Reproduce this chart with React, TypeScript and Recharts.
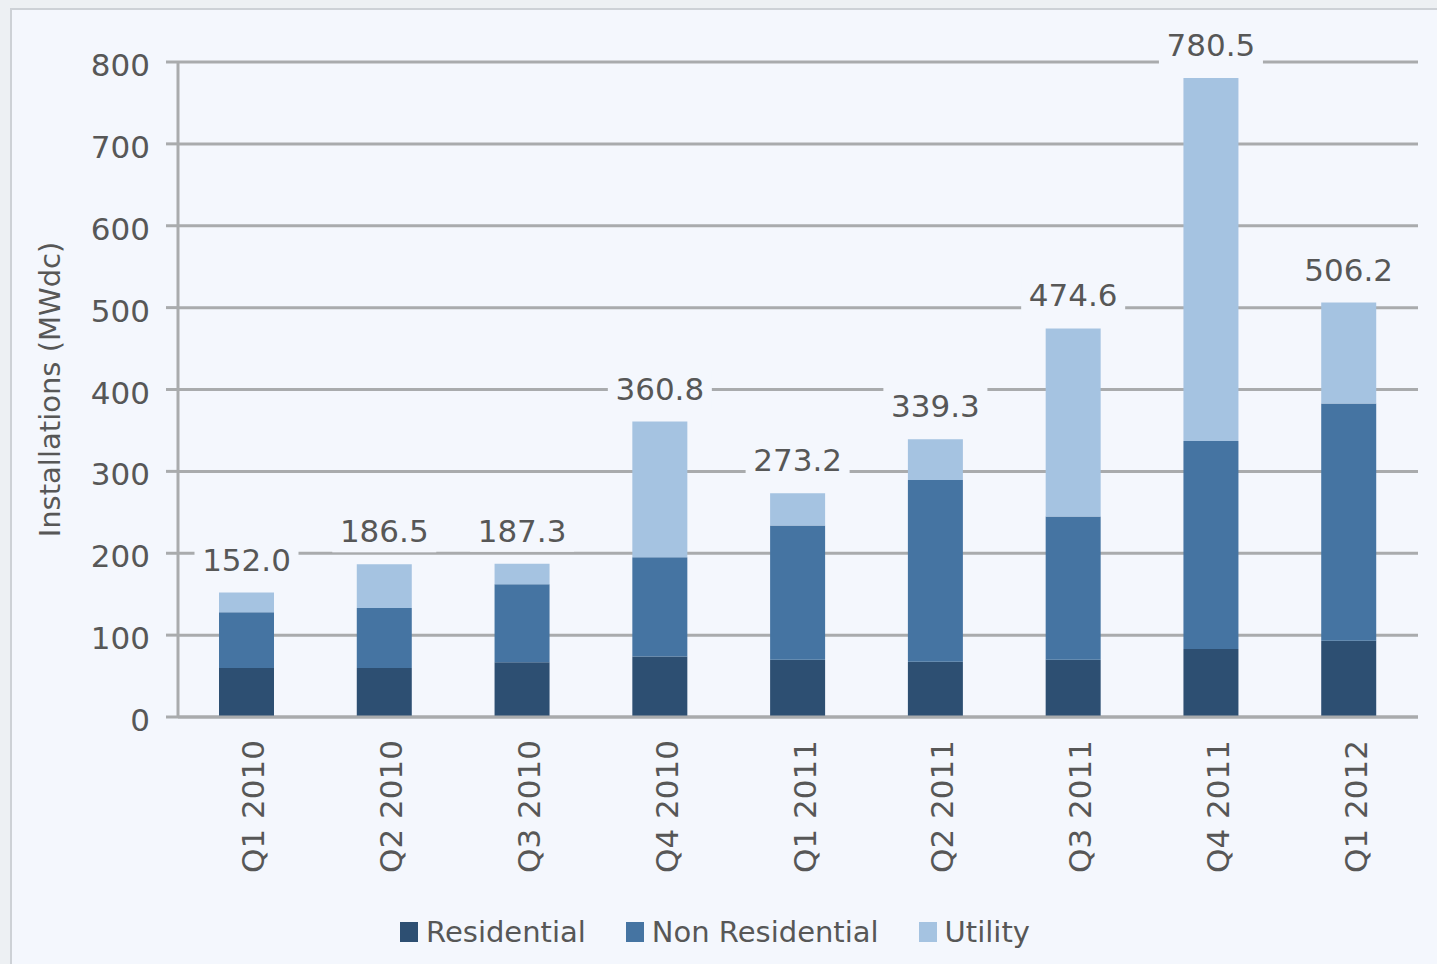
import React from "react";
import {
  BarChart,
  Bar,
  XAxis,
  YAxis,
  CartesianGrid,
  Legend,
  LabelList,
} from "recharts";

const categories = [
  "Q1 2010",
  "Q2 2010",
  "Q3 2010",
  "Q4 2010",
  "Q1 2011",
  "Q2 2011",
  "Q3 2011",
  "Q4 2011",
  "Q1 2012",
];
const residential = [60, 60, 67, 74, 70, 67.5, 70, 83, 93];
const nonResidential = [68, 73, 95, 121, 164, 222, 175, 254, 290];
const utility = [24, 53.5, 25.3, 165.8, 39.2, 49.8, 229.6, 443.5, 123.2];
const totals = [152.0, 186.5, 187.3, 360.8, 273.2, 339.3, 474.6, 780.5, 506.2];
const yTicks = [0, 100, 200, 300, 400, 500, 600, 700, 800];

const COLORS = {
  residential: "#2d4f72",
  nonResidential: "#4574a2",
  utility: "#a5c3e1",
};
const BG = "#f4f7fd";
const GRID = "#a9abad";
const TEXT = "#575757";
const FONT = "'DejaVu Sans', sans-serif";

const data = categories.map((quarter, i) => ({
  quarter,
  residential: residential[i],
  nonResidential: nonResidential[i],
  utility: utility[i],
  total: totals[i],
}));

const legendItems = [
  { label: "Residential", color: COLORS.residential },
  { label: "Non Residential", color: COLORS.nonResidential },
  { label: "Utility", color: COLORS.utility },
];

function TotalLabel(props: any) {
  const { x, y, width, value } = props;
  const cx = x + width / 2;
  const text = Number(value).toFixed(1);
  const w = text.length * 18 + 14;
  return (
    <g>
      <rect x={cx - w / 2} y={y - 52} width={w} height={40} fill={BG} />
      <text
        x={cx}
        y={y - 22}
        textAnchor="middle"
        fontFamily={FONT}
        fontSize={31}
        fill={TEXT}
      >
        {text}
      </text>
    </g>
  );
}

function QuarterTick(props: any) {
  const { x, y, payload } = props;
  return (
    <text
      transform={`translate(${x + 9},${y + 15}) rotate(-90)`}
      textAnchor="end"
      dominantBaseline="middle"
      fontFamily={FONT}
      fontSize={31}
      fill={TEXT}
    >
      {payload.value}
    </text>
  );
}

function LegendBox() {
  return (
    <div
      style={{
        height: 78,
        paddingTop: 34,
        boxSizing: "border-box",
        display: "flex",
        justifyContent: "center",
        gap: 40,
        fontFamily: FONT,
        fontSize: 29,
        color: TEXT,
      }}
    >
      {legendItems.map((it) => (
        <div key={it.label} style={{ display: "flex", alignItems: "center", height: 32 }}>
          <span
            style={{
              display: "inline-block",
              width: 18,
              height: 20,
              background: it.color,
              marginRight: 8,
            }}
          />
          <span>{it.label}</span>
        </div>
      ))}
    </div>
  );
}

export default function App() {
  return (
    <div
      style={{
        position: "absolute",
        left: 0,
        top: 0,
        width: 1437,
        height: 964,
        background: "#edf0f3",
        overflow: "hidden",
      }}
    >
      <div
        style={{
          position: "absolute",
          left: 10,
          top: 8,
          width: 1450,
          height: 980,
          border: "2px solid #cdd1d6",
          background: BG,
        }}
      >
        <BarChart
          width={1425}
          height={950}
          data={data}
          margin={{ top: 52, right: 19, left: 0, bottom: 0 }}
          barSize={55}
        >
          <CartesianGrid vertical={false} stroke={GRID} strokeWidth={3} />
          <XAxis
            dataKey="quarter"
            height={165}
            axisLine={{ stroke: GRID, strokeWidth: 3 }}
            tickLine={false}
            tick={<QuarterTick />}
            interval={0}
          />
          <YAxis
            width={166}
            domain={[0, 800]}
            ticks={yTicks}
            axisLine={{ stroke: GRID, strokeWidth: 3 }}
            tickLine={{ stroke: GRID, strokeWidth: 3 }}
            tickSize={12}
            tickMargin={16}
            tick={{ fontFamily: FONT, fontSize: 31, fill: TEXT, dy: 3 }}
            label={(p: any) => {
              const vb = p.viewBox;
              const cx = 40;
              const cy = vb.y + vb.height / 2;
              return (
                <text
                  transform={`translate(${cx},${cy}) rotate(-90)`}
                  textAnchor="middle"
                  dominantBaseline="middle"
                  fontFamily={FONT}
                  fontSize={29}
                  fill={TEXT}
                >
                  Installations (MWdc)
                </text>
              );
            }}
          />
          <Legend verticalAlign="bottom" content={() => <LegendBox />} />
          <Bar
            dataKey="residential"
            stackId="a"
            fill={COLORS.residential}
            isAnimationActive={false}
          />
          <Bar
            dataKey="nonResidential"
            stackId="a"
            fill={COLORS.nonResidential}
            isAnimationActive={false}
          />
          <Bar
            dataKey="utility"
            stackId="a"
            fill={COLORS.utility}
            isAnimationActive={false}
          >
            <LabelList dataKey="total" content={<TotalLabel />} />
          </Bar>
        </BarChart>
      </div>
    </div>
  );
}
